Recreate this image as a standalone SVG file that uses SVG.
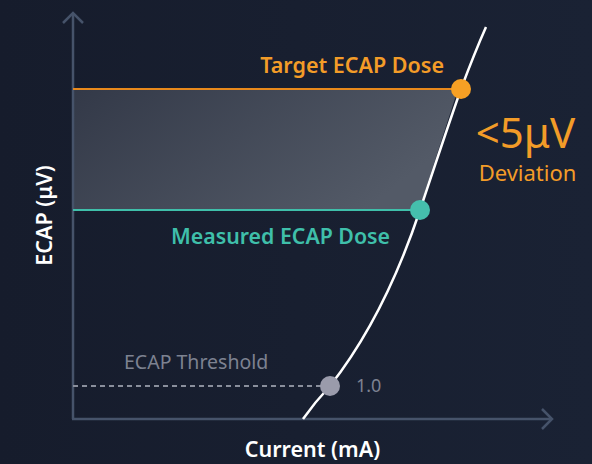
<svg xmlns="http://www.w3.org/2000/svg" width="592" height="464" viewBox="0 0 592 464">
  <defs>
    <linearGradient id="bg" x1="0" y1="0" x2="1" y2="0">
      <stop offset="0" stop-color="#161c2c"/>
      <stop offset="1" stop-color="#1a2234"/>
    </linearGradient>
    <linearGradient id="band" x1="0" y1="0" x2="1" y2="0.4">
      <stop offset="0" stop-color="#333948"/>
      <stop offset="1" stop-color="#535a67"/>
    </linearGradient>
    <style>
      .axis { stroke: #46536a; stroke-width: 2.5; fill: none; }
      .lbl { font-family: "Noto Sans", "Open Sans", sans-serif; }
      .bold { font-weight: 600; }
      .orange { fill: #f39c28; }
      .teal { fill: #3fbfaa; }
      .gray { fill: #7d8291; }
      .white { fill: #ffffff; }
    </style>
  </defs>

  <rect width="592" height="464" fill="url(#bg)"/>

  <!-- dose band between target and measured levels -->
  <polygon points="73,89 458,89 419,210 73,210" fill="url(#band)"/>

  <g id="axes">
    <line class="axis" x1="73" y1="13" x2="73" y2="419"/>
    <polyline class="axis" points="63,23 73,13 83,23"/>
    <line class="axis" x1="72" y1="419" x2="552" y2="419"/>
    <polyline class="axis" points="542,409 552,419 542,429"/>
  </g>

  <g id="connectors">
    <line x1="73" y1="89" x2="461" y2="89" stroke="#e8891c" stroke-width="2"/>
    <line x1="73" y1="210" x2="420" y2="210" stroke="#3fbfaa" stroke-width="2"/>
    <line x1="73" y1="386" x2="330" y2="386" stroke="#8a8f9c" stroke-width="2" stroke-dasharray="5,4"/>
    <path d="M303,419 Q315,402 330,386 C370,335 400,270 420,210 C435,165 450,120 461,89 C470,65 478,45 486,27" fill="none" stroke="#ffffff" stroke-width="2.5"/>
  </g>

  <g id="target-dose">
    <circle cx="461" cy="89" r="10" fill="#f7a024"/>
    <text class="lbl bold orange" x="444" y="73" font-size="21.5" text-anchor="end">Target ECAP Dose</text>
  </g>

  <g id="measured-dose">
    <circle cx="420" cy="210" r="10" fill="#45bfad"/>
    <text class="lbl bold teal" x="171" y="244" font-size="21.3">Measured ECAP Dose</text>
  </g>

  <g id="threshold">
    <circle cx="330" cy="386" r="10" fill="#9a9bab"/>
    <text class="lbl gray" x="124" y="369" font-size="19.5">ECAP Threshold</text>
    <text class="lbl gray" x="356" y="392" font-size="18">1.0</text>
  </g>

  <g id="deviation">
    <text class="lbl orange" x="525.5" y="148" font-size="42" text-anchor="middle">&lt;5μV</text>
    <text class="lbl orange" x="527.5" y="181" font-size="22" text-anchor="middle">Deviation</text>
  </g>

  <g id="axis-labels">
    <text class="lbl bold white" x="312.5" y="457" font-size="21.5" text-anchor="middle">Current (mA)</text>
    <text class="lbl bold white" transform="translate(52,215.5) rotate(-90)" font-size="21.5" text-anchor="middle">ECAP (μV)</text>
  </g>
</svg>
